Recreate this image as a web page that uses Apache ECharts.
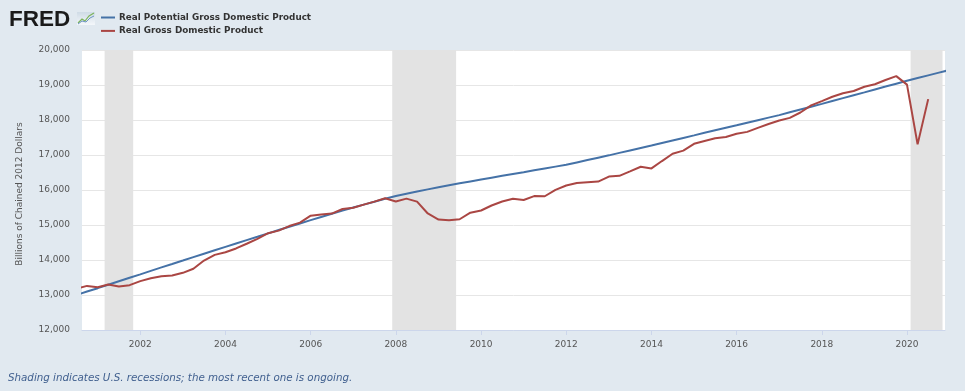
<!DOCTYPE html>
<html>
<head>
<meta charset="utf-8">
<script src="https://cdn.jsdelivr.net/npm/echarts@6/dist/echarts.min.js"></script>
<style>
html,body{margin:0;padding:0;background:#e1e9f0;}
#chart{width:965px;height:391px;}
</style>
</head>
<body>
<div id="chart"></div>
<script>
// Quarterly observation dates
const quarters = [
'2000-07-01','2000-10-01',
'2001-01-01','2001-04-01','2001-07-01','2001-10-01',
'2002-01-01','2002-04-01','2002-07-01','2002-10-01',
'2003-01-01','2003-04-01','2003-07-01','2003-10-01',
'2004-01-01','2004-04-01','2004-07-01','2004-10-01',
'2005-01-01','2005-04-01','2005-07-01','2005-10-01',
'2006-01-01','2006-04-01','2006-07-01','2006-10-01',
'2007-01-01','2007-04-01','2007-07-01','2007-10-01',
'2008-01-01','2008-04-01','2008-07-01','2008-10-01',
'2009-01-01','2009-04-01','2009-07-01','2009-10-01',
'2010-01-01','2010-04-01','2010-07-01','2010-10-01',
'2011-01-01','2011-04-01','2011-07-01','2011-10-01',
'2012-01-01','2012-04-01','2012-07-01','2012-10-01',
'2013-01-01','2013-04-01','2013-07-01','2013-10-01',
'2014-01-01','2014-04-01','2014-07-01','2014-10-01',
'2015-01-01','2015-04-01','2015-07-01','2015-10-01',
'2016-01-01','2016-04-01','2016-07-01','2016-10-01',
'2017-01-01','2017-04-01','2017-07-01','2017-10-01',
'2018-01-01','2018-04-01','2018-07-01','2018-10-01',
'2019-01-01','2019-04-01','2019-07-01','2019-10-01',
'2020-01-01','2020-04-01','2020-07-01','2020-10-01',
'2021-01-01'
];

// Real Potential Gross Domestic Product (billions of chained 2012 dollars)
const potentialGDP = [
13000,13098,
13195,13294,13393,13491,
13590,13689,13788,13886,
13985,14083,14180,14278,
14375,14471,14567,14663,
14760,14855,14950,15045,
15140,15230,15320,15410,
15500,15583,15665,15748,
15830,15893,15955,16018,
16080,16135,16190,16245,
16300,16353,16405,16458,
16510,16563,16615,16668,
16720,16788,16855,16923,
16990,17060,17130,17200,
17270,17343,17415,17488,
17560,17633,17705,17778,
17850,17923,17995,18068,
18140,18220,18300,18380,
18460,18543,18625,18708,
18790,18873,18955,19038,
19120,19198,19275,19353,
19430
];

// Real Gross Domestic Product (billions of chained 2012 dollars)
const realGDP = [
13178,13260,
13222,13300,13245,13281,
13397,13478,13538,13559,
13634,13751,13985,14146,
14221,14330,14465,14606,
14767,14839,14970,15067,
15267,15303,15326,15457,
15494,15583,15667,15762,
15672,15753,15667,15329,
15156,15135,15164,15352,
15415,15557,15672,15751,
15713,15826,15821,16005,
16130,16199,16221,16240,
16383,16404,16532,16664,
16617,16827,17036,17126,
17320,17400,17476,17515,
17606,17661,17776,17885,
17986,18060,18214,18416,
18540,18663,18766,18830,
18950,19021,19142,19254,
19011,17303,18597
];

// Recession periods (shaded)
const recessionStarts = ['2001-03-01','2007-12-01','2020-02-01'];
const recessionEnds   = ['2001-11-01','2009-06-01','2020-11-01'];

// Axis ticks
const xTickYears = [2002,2004,2006,2008,2010,2012,2014,2016,2018,2020];
const yMin = 12000, yMax = 20000, yStep = 1000;

const seriesNames = ['Real Potential Gross Domestic Product','Real Gross Domestic Product'];
const seriesColors = ['#4572a7','#aa4643'];

function ts(s){ const p = s.split('-').map(Number); return Date.UTC(p[0], p[1]-1, p[2]); }
const xMin = Date.UTC(2000,7,19);
const xMax = Date.UTC(2020,10,22);
const tickTimes = xTickYears.map(y => Date.UTC(y,0,1));

const chart = echarts.init(document.getElementById('chart'), null, {renderer:'canvas'});
const font = 'DejaVu Sans';

const option = {
  animation: false,
  backgroundColor: '#e1e9f0',
  textStyle: {fontFamily: font},
  grid: {left: 82, top: 50, width: 863, height: 280, show: true, backgroundColor: '#ffffff', borderWidth: 0, containLabel: false},
  legend: {
    orient: 'vertical', left: 96, top: 8,
    itemWidth: 14, itemHeight: 12, itemGap: 4.4,
    icon: 'path://M0,5 L14,5 L14,7 L0,7 Z',
    data: seriesNames,
    textStyle: {fontFamily: font, fontSize: 8.8, fontWeight: 'bold', color: '#333333', padding: [0,0,0,-1]},
    selectedMode: false
  },
  xAxis: {
    type: 'value', min: xMin, max: xMax,
    axisLine: {show: true, lineStyle: {color: '#ccd6eb', width: 1}},
    axisTick: {show: true, customValues: tickTimes, length: 5, lineStyle: {color: '#ccd6eb'}},
    axisLabel: {customValues: tickTimes, formatter: v => String(new Date(v).getUTCFullYear()), color: '#555555', fontSize: 9, fontFamily: font, margin: 10},
    splitLine: {show: false}
  },
  yAxis: {
    type: 'value', min: yMin, max: yMax, interval: yStep,
    name: 'Billions of Chained 2012 Dollars', nameLocation: 'middle', nameGap: 58, nameRotate: 90,
    nameTextStyle: {fontFamily: font, fontSize: 9, color: '#555555', padding: [0,0,0,-8]},
    axisLine: {show: false}, axisTick: {show: false},
    axisLabel: {formatter: v => v.toLocaleString('en-US'), color: '#555555', fontSize: 9, fontFamily: font, margin: 12},
    splitLine: {show: true, lineStyle: {color: '#e6e6e6', width: 1}}
  },
  graphic: [
    {type:'text', left: 9, top: 8, style:{text:'FRED', font:'bold 22.5px "Liberation Sans"', fill:'#1a1a1a'}},
    {type:'rect', shape:{x:77, y:12, width:18, height:13}, style:{fill: new echarts.graphic.LinearGradient(0,0,0,1,[{offset:0,color:'#cfdbe6'},{offset:1,color:'#f4f7fa'}])}},
    {type:'polyline', shape:{points:[[78,23],[82,19],[85,21],[89,16],[94,13]]}, style:{stroke:'#7cb45c', lineWidth:1.2, fill:null}},
    {type:'polyline', shape:{points:[[78,24],[82,21],[86,22],[90,18],[94,16]]}, style:{stroke:'#6d95c4', lineWidth:1, fill:null}},
    {type:'text', left: 8, top: 373, style:{text:'Shading indicates U.S. recessions; the most recent one is ongoing.', font:'italic 10.3px "DejaVu Sans"', fill:'#41608f'}}
  ],
  series: [
    {
      name: 'recessions', type: 'line', data: [], z: 1, silent: true,
      markArea: {silent: true, itemStyle: {color: '#e3e3e3'},
        data: recessionStarts.map((s,i) => [{xAxis: ts(s)}, {xAxis: ts(recessionEnds[i])}])}
    },
    {
      name: seriesNames[0], type: 'line', z: 3, symbol: 'none', clip: true,
      data: quarters.map((d,i) => [ts(d), potentialGDP[i]]),
      lineStyle: {color: seriesColors[0], width: 2}, itemStyle: {color: seriesColors[0]}
    },
    {
      name: seriesNames[1], type: 'line', z: 4, symbol: 'none', clip: true,
      data: realGDP.map((v,i) => [ts(quarters[i]), v]),
      lineStyle: {color: seriesColors[1], width: 2}, itemStyle: {color: seriesColors[1]}
    }
  ]
};
chart.setOption(option);
</script>
</body>
</html>
